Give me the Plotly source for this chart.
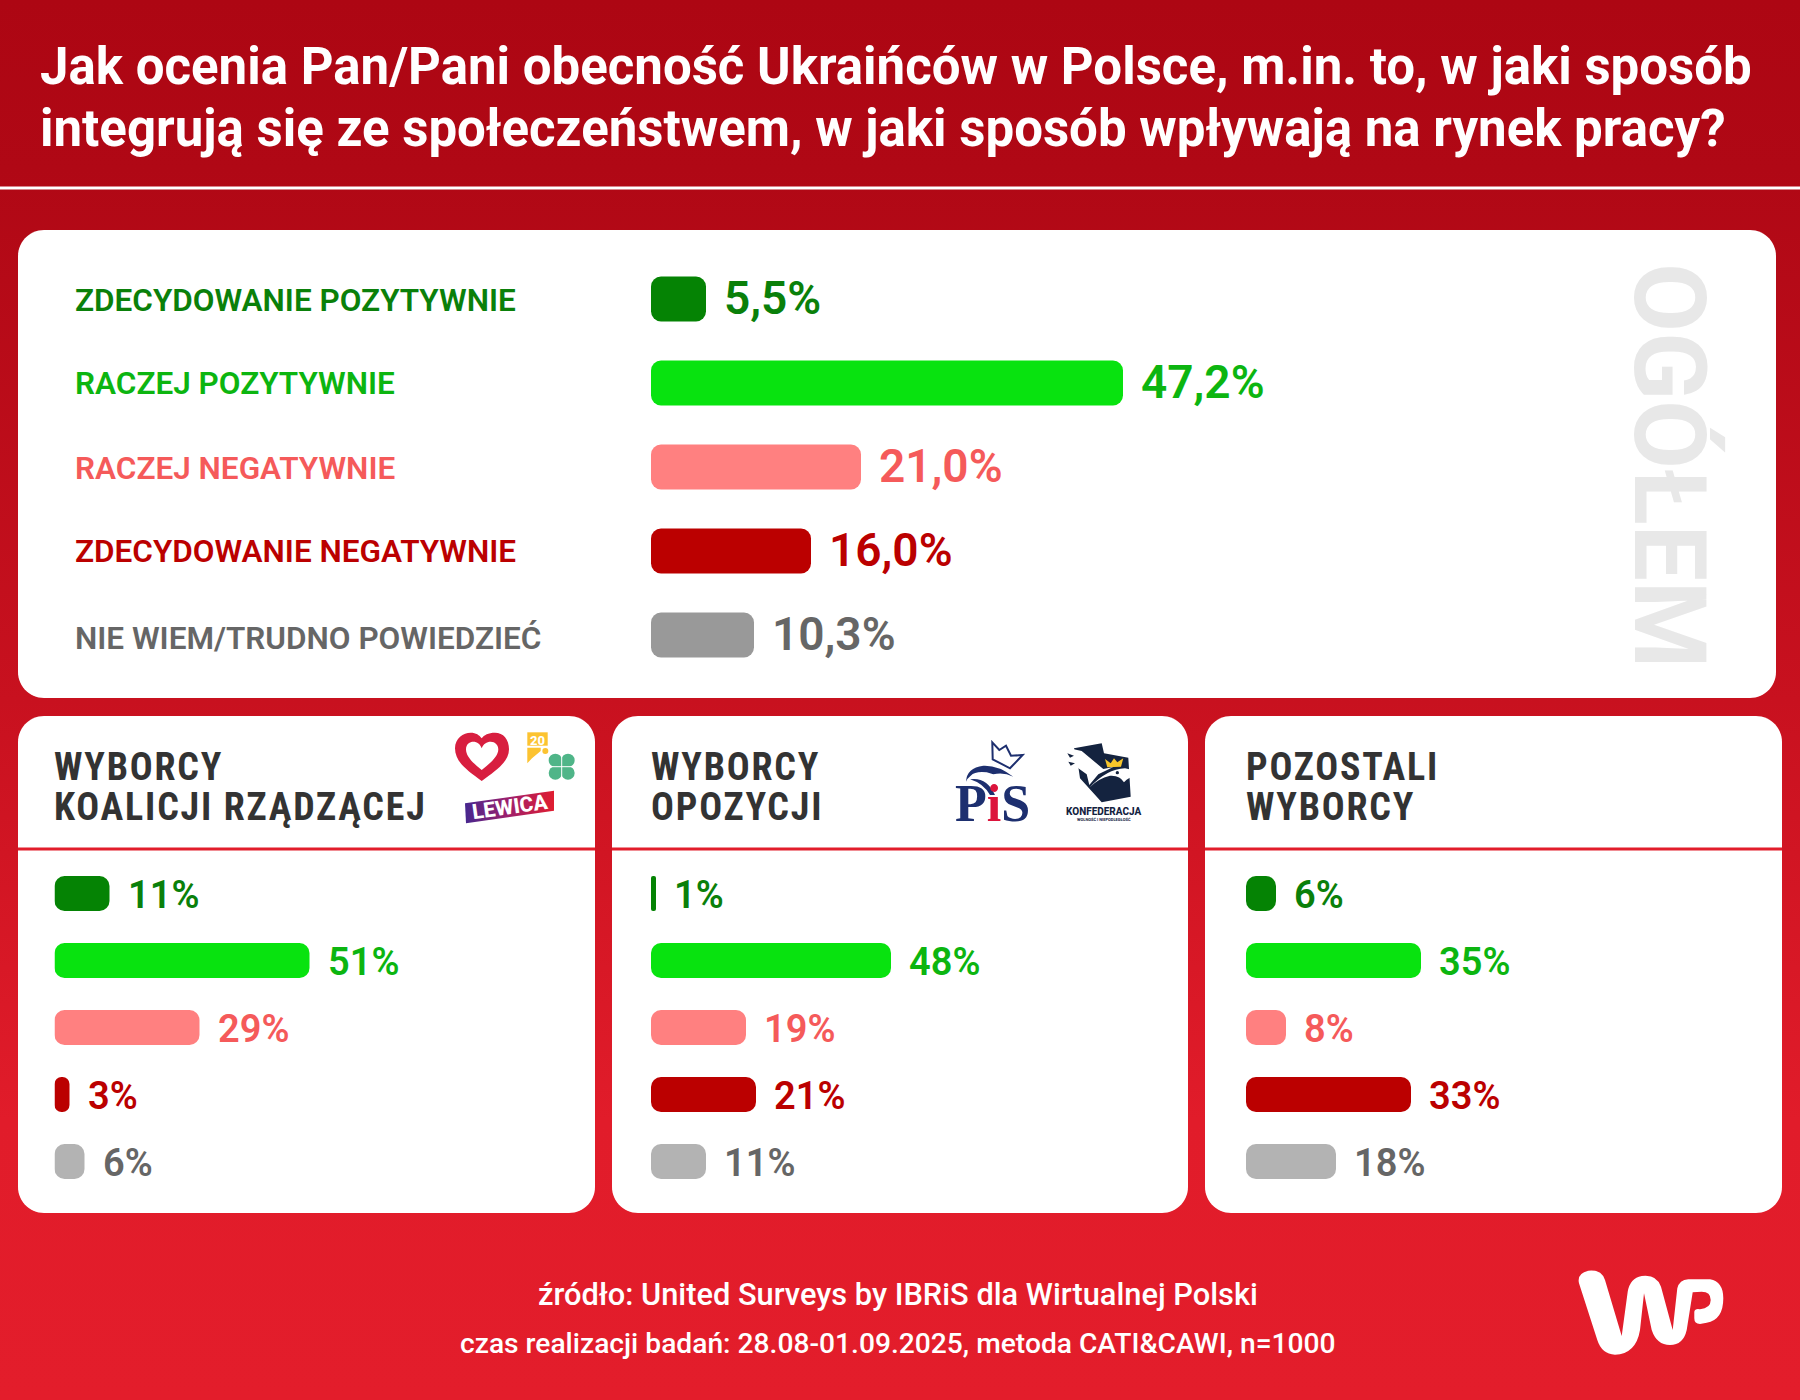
import numpy as np
import plotly.graph_objects as go

W, H = 1800, 1400

# data
answers = ["ZDECYDOWANIE POZYTYWNIE", "RACZEJ POZYTYWNIE", "RACZEJ NEGATYWNIE",
           "ZDECYDOWANIE NEGATYWNIE", "NIE WIEM/TRUDNO POWIEDZIEĆ"]
overall = [5.5, 47.2, 21.0, 16.0, 10.3]
coalition = [11, 51, 29, 3, 6]
opposition = [1, 48, 19, 21, 11]
others = [6, 35, 8, 33, 18]

title_lines = ["Jak ocenia Pan/Pani obecność Ukraińców w Polsce, m.in. to, w jaki sposób",
               "integrują się ze społeczeństwem, w jaki sposób wpływają na rynek pracy?"]
panel_titles = [["WYBORCY", "KOALICJI RZĄDZĄCEJ"], ["WYBORCY", "OPOZYCJI"], ["POZOSTALI", "WYBORCY"]]
source_lines = ["źródło: United Surveys by IBRiS dla Wirtualnej Polski",
                "czas realizacji badań: 28.08-01.09.2025, metoda CATI&CAWI, n=1000"]

bar_big = ["#058304", "#08e30f", "#ff8080", "#bb0000", "#999999"]
bar_small = ["#058304", "#08e30f", "#ff8080", "#bb0000", "#b3b3b3"]
text_colors = ["#0a800a", "#0cb510", "#f55a5a", "#bb0000", "#666666"]

FONT = "Roboto"
HEAD_FONT = "Roboto Condensed, Liberation Sans Narrow, Roboto"


def card_xy(x0, y0, x1, y1, r=26):
    xs, ys = [], []
    for cx, cy, a in [(x0 + r, y0 + r, 180), (x1 - r, y0 + r, 270), (x1 - r, y1 - r, 0), (x0 + r, y1 - r, 90)]:
        t = np.radians(np.linspace(a, a + 90, 16))
        xs += list(cx + r * np.cos(t))
        ys += list(cy + r * np.sin(t))
    return xs + xs[:1], ys + ys[:1]


fig = go.Figure()
anns = []
shapes = []


def text(x, y, s, size, color, weight=500, anchor="left", family=FONT, angle=0, xref="x", yref="y", xshift=0, yshift=0):
    anns.append(dict(x=x, y=y, text=s, xref=xref, yref=yref, xanchor=anchor, yanchor="middle", showarrow=False,
                     xshift=xshift, yshift=yshift, textangle=angle,
                     font=dict(family=family, size=size, color=color, weight=weight)))


# page background
fig.add_trace(go.Scatter(x=[0, W, W, 0, 0], y=[0, 0, H, H, 0], mode="none", fill="toself", hoverinfo="skip",
                         fillgradient=dict(type="vertical", start=0, stop=H,
                                           colorscale=[[0, "#ad0613"], [0.12, "#b00815"], [0.5, "#c8111f"],
                                                       [0.8, "#e11c2a"], [1, "#e31d2b"]])))

# white cards
cards = [(18, 230, 1776, 698), (18, 716, 595, 1213), (612, 716, 1188, 1213), (1205, 716, 1782, 1213)]
for c in cards:
    cx, cy = card_xy(*c)
    fig.add_trace(go.Scatter(x=cx, y=cy, mode="none", fill="toself", fillcolor="white", hoverinfo="skip"))

# header rule and card rules
shapes.append(dict(type="line", x0=0, x1=W, y0=188, y1=188, line=dict(color="white", width=3)))
for c in cards[1:]:
    shapes.append(dict(type="line", x0=c[0], x1=c[2], y0=849, y1=849, line=dict(color="#e21d2b", width=3)))

# bar panels: (values, left px, top px, row pitch, bar height, colours, axis span px)
panels = [(overall, 651, 257, 84, 45, bar_big, 1000),
          (coalition, 54.5, 860, 67, 35, bar_small, 500),
          (opposition, 651, 860, 67, 35, bar_small, 500),
          (others, 1246, 860, 67, 35, bar_small, 500)]
axes = {}
for i, (vals, left, top, pitch, bar_h, cols, span) in enumerate(panels):
    n = i + 2
    # an explicit base makes plotly round all four corners
    fig.add_trace(go.Bar(x=vals, base=[0] * len(vals), y=answers, orientation="h", width=bar_h / pitch,
                         xaxis=f"x{n}", yaxis=f"y{n}", hoverinfo="skip",
                         marker=dict(color=cols, cornerradius=10, line_width=0)))
    axes[f"xaxis{n}"] = dict(domain=[left / W, (left + span) / W], range=[0, 100], visible=False, anchor=f"y{n}")
    axes[f"yaxis{n}"] = dict(domain=[1 - (top + 5 * pitch) / H, 1 - top / H], type="category",
                             categoryorder="array", categoryarray=answers, range=[4.5, -0.5],
                             visible=False, anchor=f"x{n}")
    for a, v, col in zip(answers, vals, text_colors):
        if i == 0:
            text(v, a, f"{v:.1f}".replace(".", ",") + "%", 46, col, weight=600, xref=f"x{n}", yref=f"y{n}",
                 xshift=16, yshift=1)
        else:
            text(v, a, f"{v}%", 38, col, weight=600, xref=f"x{n}", yref=f"y{n}", xshift=16, yshift=-1.5)

# titles
text(38, 66, title_lines[0], 51, "white", weight=700)
text(38, 128, title_lines[1], 51, "white", weight=700)
for a, col, y in zip(answers, text_colors, [300, 383, 468, 551, 638]):
    text(73, y, a, 31.5, col, weight=600)
text(1670, 466, "OGÓŁEM", 100, "#e8e8e8", weight=700, anchor="center", angle=90)
for (first, second), x in zip(panel_titles, [52, 649, 1244]):
    text(x, 767, first, 38, "#333333", weight=700, family=HEAD_FONT)
    text(x, 807, second, 38, "#333333", weight=700, family=HEAD_FONT)
text(898, 1294, source_lines[0], 30.8, "white", weight=500, anchor="center")
text(898, 1343, source_lines[1], 28.2, "white", weight=500, anchor="center")


# logos (crop coordinates, 3x)
def path(points, ox, oy):
    out = []
    for p in points.split():
        if p.isalpha():
            out.append(p)
        else:
            px, py = p.split(",")
            out.append(f"{ox + float(px) / 3:.1f},{oy + float(py) / 3:.1f}")
    return " ".join(out)


def logo(points, ox, oy, fill=None, line=None, lw=0):
    shapes.append(dict(type="path", path=path(points, ox, oy), fillcolor=fill or "rgba(0,0,0,0)",
                       line=dict(color=line or "rgba(0,0,0,0)", width=lw)))


def dot(px, py, r, ox, oy, fill):
    shapes.append(dict(type="circle", x0=ox + (px - r) / 3, x1=ox + (px + r) / 3, y0=oy + (py - r) / 3,
                       y1=oy + (py + r) / 3, fillcolor=fill, line_width=0))


# WP
logo("M 57,100 Q 50,70 85,62 Q 125,58 135,90 L 185,258 L 203,125 Q 210,85 245,78 Q 290,72 303,110 L 338,240 "
     "L 352,115 Q 358,90 385,88 L 450,88 Q 490,95 490,145 Q 490,210 440,218 L 420,222 Q 403,222 403,205 L 403,185 "
     "Q 405,175 420,178 Q 452,175 452,150 Q 452,125 425,125 L 398,127 L 380,240 Q 370,285 330,285 Q 290,285 275,240 "
     "L 252,130 L 240,240 Q 228,312 165,314 Q 125,312 112,270 Z", 1560, 1250, fill="white")
# heart
logo("M 125,183 C 80,150 45,125 45,85 C 45,55 70,38 92,38 C 108,38 118,45 125,55 C 132,45 145,38 165,38 "
     "C 190,38 207,58 207,88 C 207,125 170,150 125,183 Z", 440, 720, fill="#d81e3f")
logo("M 125,150 C 100,130 78,110 78,88 C 78,72 90,65 100,65 C 112,65 120,72 125,85 C 130,72 140,65 152,65 "
     "C 165,65 175,75 175,88 C 175,110 150,130 125,150 Z", 440, 720, fill="white")
# 2050 and clover
logo("M 22,22 L 83,22 L 83,62 L 22,62 Z", 520, 725, fill="#fcc331")
logo("M 22,68 L 62,68 L 62,78 L 36,100 L 22,115 Z", 520, 725, fill="#fcc331")
dot(76, 78, 9, 520, 725, "#fcc331")
text(537, 740, "20", 13, "white", weight=800, anchor="center")
logo("M 110,110 L 140,110 L 140,140 L 110,140 Z", 520, 725, fill="#4fb588")
for px, py in [(106, 106), (144, 106), (106, 144), (144, 144)]:
    dot(px, py, 20, 520, 725, "#4fb588")
logo("M 125,88 L 125,162 M 88,125 L 162,125", 520, 725, line="white", lw=1)
# Lewica ribbon
lx = [440 + v / 3 for v in (75, 342, 342, 78, 75)]
ly = [720 + v / 3 for v in (250, 212, 272, 310, 250)]
fig.add_trace(go.Scatter(x=lx, y=ly, mode="none", fill="toself", hoverinfo="skip",
                         fillgradient=dict(type="horizontal",
                                           colorscale=[[0, "#46278f"], [0.5, "#a01f6a"], [1, "#e01d30"]])))
text(510, 807, "LEWICA", 21, "white", weight=800, anchor="center", angle=-8)
# PiS
logo("M 127,22 L 148,45 L 168,32 L 183,62 L 218,60 L 180,100 L 128,73 Z", 950, 735, line="#1d2f6f", lw=2)
logo("M 48,140 Q 50,98 100,92 Q 145,90 190,125 Q 160,110 130,118 L 110,112 Q 75,108 62,122 Q 52,130 48,140 Z",
     950, 735, fill="#1d2f6f")
logo("M 60,133 Q 110,125 135,180 L 120,180 Q 100,145 60,133 Z", 950, 735, fill="#1d2f6f")
text(992, 803, "P<span style='color:#dc143c'>i</span>S", 52, "#1d2f6f", weight=700, anchor="center",
     family="Liberation Serif")
# Konfederacja
logo("M 42,40 L 125,25 L 132,55 L 205,68 L 212,185 L 125,202 L 60,130 L 55,95 Z", 1060, 735, fill="#14233f")
logo("M 28,40 L 65,48 L 130,102 L 160,96 L 115,118 L 88,150 L 80,118 L 55,100 L 45,78 Z", 1060, 735, fill="white")
logo("M 88,158 Q 140,102 195,100 Q 230,105 245,127 Q 212,118 192,142 Q 180,120 150,122 Q 115,130 88,158 Z",
     1060, 735, fill="white")
logo("M 22,55 L 42,62 L 30,68 Z M 25,80 L 45,85 L 32,92 Z", 1060, 735, fill="#14233f")
logo("M 135,72 L 152,85 L 162,70 L 172,82 L 190,70 L 183,95 L 142,97 Z", 1060, 735, fill="#f6c52b")
dot(172, 113, 5, 1060, 735, "#14233f")
text(1104, 811, "KONFEDERACJA", 10, "#14233f", weight=800, anchor="center")
text(1104, 819, "WOLNOŚĆ I NIEPODLEGŁOŚĆ", 4, "#14233f", weight=700, anchor="center")

fig.update_layout(width=W, height=H, margin=dict(l=0, r=0, t=0, b=0, pad=0), showlegend=False, barmode="overlay",
                  paper_bgcolor="#e31d2b", plot_bgcolor="rgba(0,0,0,0)",
                  xaxis=dict(domain=[0, 1], range=[0, W], visible=False),
                  yaxis=dict(domain=[0, 1], range=[H, 0], visible=False),
                  annotations=anns, shapes=shapes, **axes)

# plotly has no letter spacing, the panel headings need it; the text is middle-anchored so push it back right
post = """
document.body.style.margin = '0';
var heads = %s;
document.querySelectorAll('.annotation-text').forEach(function (t) {
  if (heads.indexOf(t.textContent) >= 0) {
    var w0 = t.getComputedTextLength();
    t.style.letterSpacing = '1.8px';
    var d = (t.getComputedTextLength() - w0) / 2;
    t.setAttribute('x', parseFloat(t.getAttribute('x')) + d);
  }
});
""" % str(sorted({s for pair in panel_titles for s in pair}))
fig.write_html("out.html", config=dict(displayModeBar=False), post_script=post)
